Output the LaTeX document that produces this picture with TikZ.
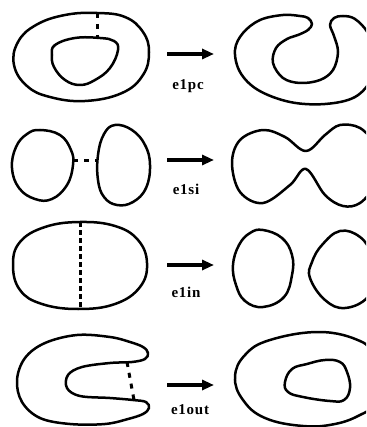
\documentclass[tikz,border=0pt]{standalone}
\usepackage{fontspec}
\newfontfamily\labfont[LetterSpace=5]{Liberation Serif}
\usetikzlibrary{arrows.meta}
\begin{document}
\begin{tikzpicture}[x=1pt,y=-1pt,
  curve/.style={line width=2.5pt, line join=round},
  cut/.style={line width=3pt, dash pattern=on 5pt off 6pt},
  bigarrow/.style={line width=3.5pt, -{Triangle[length=12pt,width=10pt]}},
  lab/.style={font=\labfont\bfseries\fontsize{15}{15}\selectfont, inner sep=0pt}]
\useasboundingbox (0,0) rectangle (366,427);
\clip (0,0) rectangle (366,427);
% ---------- panel 1 ----------
\draw[curve] plot[smooth cycle, tension=0.7] coordinates {(97,13) (125,17) (143,32) (149,52) (143,75) (122,93) (85,101) (50,97) (27,86) (14,65) (18,42) (36,25) (65,15)};
\draw[curve] plot[smooth cycle, tension=0.7] coordinates {(55,45) (75,38) (100,38) (114,41) (118,50) (110,68) (95,80) (80,85) (65,80) (54,67) (52,55)};
\coordinate (c1a) at (97,13); \coordinate (c1b) at (97,38);
\draw[cut] (c1a) -- (c1b);
\draw[curve] plot[smooth cycle, tension=0.6] coordinates {(308,18) (300,16) (283,15) (260,20) (243,33) (235,50) (240,72) (258,90) (290,102) (325,104) (355,97) (372,78) (376,55) (368,33) (355,19) (343,16) (334,18) (330,25) (334,36) (338,52) (333,70) (320,80) (300,83) (283,78) (273,63) (276,48) (287,39) (298,35) (308,30) (312,24)};
\coordinate (a1s) at (167,54); \coordinate (a1e) at (214,54);
\draw[bigarrow] (a1s) -- (a1e);
\node[lab] (l1) at (188,86) {e1pc};
% ---------- panel 2 ----------
\draw[curve] plot[smooth cycle, tension=0.7] coordinates {(40,130) (60,135) (71,150) (73,165) (67,185) (52,199) (35,199) (19,188) (12,168) (16,147) (27,134)};
\draw[curve] plot[smooth cycle, tension=0.7] coordinates {(115,125) (132,130) (145,145) (150,165) (146,188) (133,202) (117,205) (104,197) (98,180) (98,155) (104,134)};
\coordinate (c2a) at (73,161); \coordinate (c2b) at (98,161);
\draw[cut] (c2a) -- (c2b);
\draw[curve] plot[smooth cycle, tension=0.6] coordinates {(232,163) (240,140) (263,130) (285,137) (306,151) (325,135) (340,125) (360,128) (375,145) (378,165) (375,185) (360,203) (343,206) (325,195) (306,169) (290,185) (263,203) (240,192)};
\coordinate (a2s) at (167,160); \coordinate (a2e) at (214,160);
\draw[bigarrow] (a2s) -- (a2e);
\node[lab] (l2) at (186,189) {e1si};
% ---------- panel 3 ----------
\draw[curve] plot[smooth cycle, tension=0.7] coordinates {(80,222) (115,226) (138,240) (147,263) (140,287) (115,304) (78,309) (42,304) (20,290) (13,265) (20,242) (45,227)};
\coordinate (c3a) at (80,222); \coordinate (c3b) at (80,309);
\draw[cut, dash pattern=on 5pt off 3pt] (c3a) -- (c3b);
\draw[curve] plot[smooth cycle, tension=0.7] coordinates {(263,230) (282,238) (292,255) (292,275) (284,297) (263,307) (245,301) (236,285) (233,265) (239,245) (250,233)};
\draw[curve] plot[smooth cycle, tension=0.7] coordinates {(340,231) (360,237) (372,255) (375,275) (368,297) (345,308) (325,300) (310,278) (312,262) (322,245)};
\coordinate (a3s) at (167,265); \coordinate (a3e) at (214,265);
\draw[bigarrow] (a3s) -- (a3e);
\node[lab] (l3) at (186,292) {e1in};
% ---------- panel 4 ----------
\draw[curve] plot[smooth cycle, tension=0.6] coordinates {(143,347) (130,342) (110,337) (77,335) (45,343) (25,358) (17,380) (22,402) (40,418) (70,424) (105,424) (128,419) (143,414) (149,408) (146,402) (133,400) (110,398) (80,396) (67,388) (68,375) (82,367) (110,363) (132,362) (145,359) (148,353)};
\coordinate (c4a) at (127,362); \coordinate (c4b) at (134,400);
\draw[cut] (c4a) -- (c4b);
\draw[curve] plot[smooth cycle, tension=0.7] coordinates {(235,377) (245,355) (270,340) (320,332) (360,341) (372,355) (377,380) (372,405) (360,415) (335,424) (303,426) (265,418) (243,400)};
\draw[curve] plot[smooth cycle, tension=0.7] coordinates {(285,382) (292,369) (307,364) (325,360) (340,362) (347,372) (350,388) (344,400) (330,401) (303,397) (288,392)};
\coordinate (a4s) at (167,385); \coordinate (a4e) at (214,385);
\draw[bigarrow] (a4s) -- (a4e);
\node[lab] (l4) at (190,410) {e1out};
\end{tikzpicture}
\end{document}
